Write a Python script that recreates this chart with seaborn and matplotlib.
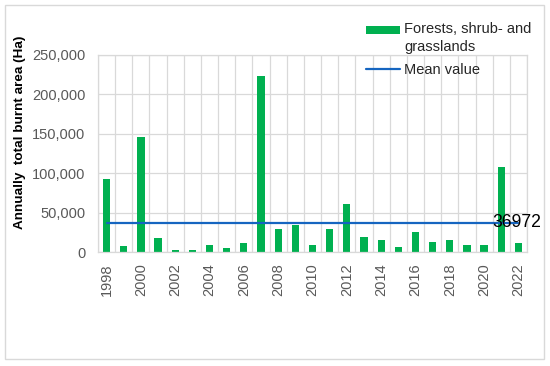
import numpy as np
import pandas as pd
import matplotlib.pyplot as plt
import matplotlib.patches as mpatches
from matplotlib.ticker import FuncFormatter
import seaborn as sns

years = list(range(1998, 2023))
burnt_area = [93000, 7300, 145800, 17200, 3000, 2200, 9500, 5200, 12000, 223000,
              29300, 34500, 8600, 29300, 60800, 19400, 15100, 6500, 25900, 12900,
              15500, 8600, 8600, 108200, 11200]
mean_value = 36972
bar_label = "Forests, shrub- and\ngrasslands"
line_label = "Mean value"

df = pd.DataFrame({"year": years, "area": burnt_area})
df["mean"] = mean_value

sns.set_theme(style="white")
plt.rcParams["font.family"] = ["Liberation Sans", "DejaVu Sans"]

fig = plt.figure(figsize=(5.5, 3.66), dpi=100)
ax = fig.add_axes([98 / 550, 1 - 252 / 366, (527 - 98) / 550, (252 - 55) / 366])

grid_c = "#d9d9d9"
sns.barplot(data=df, x="year", y="area", native_scale=True, width=0.42,
            color="#00b050", saturation=1, errorbar=None, ax=ax, label=bar_label,
            linewidth=0, edgecolor="none", zorder=2)
sns.lineplot(data=df, x="year", y="mean", color="#1565c0", linewidth=1.6,
             ax=ax, label=line_label, zorder=3)

ax.set_xlim(1997.5, 2022.5)
ax.set_ylim(0, 250000)
ax.set_yticks(range(0, 250001, 50000))
ax.yaxis.set_major_formatter(FuncFormatter(lambda v, p: f"{v:,.0f}"))
ax.set_xticks(years[::2])
ax.set_xticks(np.arange(1997.5, 2023, 1), minor=True)
ax.tick_params(axis="x", which="both", length=0, labelrotation=90, pad=8,
               labelsize=10.5, labelcolor="#595959")
ax.tick_params(axis="y", length=0, pad=9, labelsize=10.5, labelcolor="#595959")
ax.grid(False)
ax.grid(True, which="minor", axis="x", color=grid_c, linewidth=0.9, zorder=0)
ax.grid(True, which="major", axis="y", color=grid_c, linewidth=0.9, zorder=0)
ax.set_axisbelow(True)
for s in ax.spines.values():
    s.set_color(grid_c)
    s.set_linewidth(0.9)

ax.set_xlabel("")
ax.set_ylabel("Annually  total burnt area (Ha)", fontsize=9.7, fontweight="bold",
              color="black")
ax.yaxis.set_label_coords(-0.167, 0.607)

ax.text(2021.9, mean_value, f"{mean_value}", ha="center", va="center",
        fontsize=12.7, color="black", zorder=4)

handles, labels = ax.get_legend_handles_labels()
order = [labels.index(bar_label), labels.index(line_label)]
leg = ax.legend([handles[i] for i in order], [labels[i] for i in order],
                loc="upper left", bbox_to_anchor=(359 / 550, 1 - 15 / 366),
                bbox_transform=fig.transFigure, frameon=False, fontsize=10.5,
                handlelength=2.3, handleheight=0.5, handletextpad=0.3,
                labelspacing=0.6, borderpad=0)
for t in leg.get_texts():
    t.set_color("#262626")
    t.set_linespacing(1.36)
# put the bar swatch next to the first line of its two-line label
bar_handle = leg.legend_handles[0]
bar_handle.set_y(bar_handle.get_y() + 6.2)

fig.patches.append(mpatches.Rectangle((5 / 550, 1 - 359 / 366), 539 / 550, 354 / 366,
                                      transform=fig.transFigure, fill=False,
                                      edgecolor=grid_c, linewidth=1))

fig.savefig("out.png", dpi=100)
